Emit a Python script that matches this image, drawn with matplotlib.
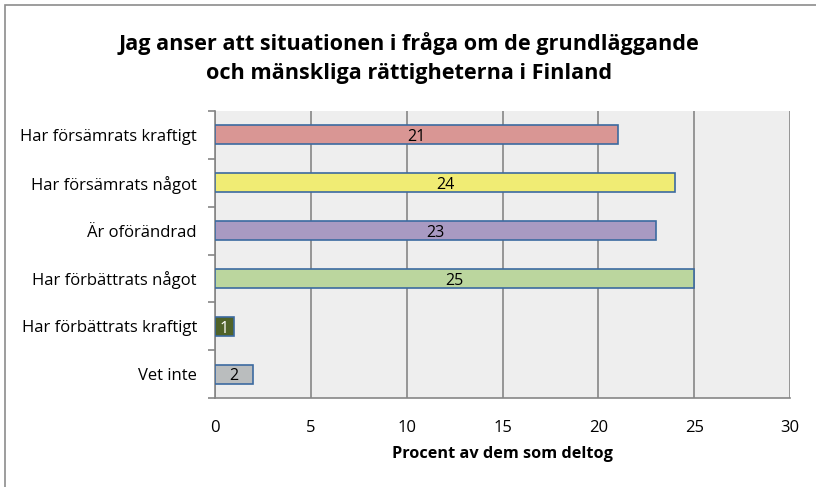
import matplotlib.pyplot as plt
import numpy as np
from matplotlib.patches import Rectangle

categories = ["Har försämrats kraftigt", "Har försämrats något", "Är oförändrad",
              "Har förbättrats något", "Har förbättrats kraftigt", "Vet inte"]
values = [21, 24, 23, 25, 1, 2]
colors = ["#D99694", "#F0EC74", "#A99AC2", "#BBD69E", "#4F6228", "#BABDBE"]
label_colors = ["black", "black", "black", "black", "white", "black"]
xticks = [0, 5, 10, 15, 20, 25, 30]

plt.rcParams["font.family"] = ["Open Sans", "DejaVu Sans"]

fig = plt.figure(figsize=(8.16, 4.87), dpi=100)
fig.patches.append(Rectangle((5 / 816, -0.1), 1.2, 1 - 5 / 487 + 0.1, transform=fig.transFigure,
                             fill=False, edgecolor="#8C8C8C", linewidth=1.2))

ax = fig.add_axes([215 / 816, 1 - 398 / 487, 575 / 816, 287 / 487])
ax.set_facecolor("#EEEEEE")

y = np.arange(len(categories))
ax.barh(y, values, height=0.4, color=colors, edgecolor="#3C6AA0", linewidth=1.2, zorder=3)
for yi, v, c in zip(y, values, label_colors):
    ax.text(v / 2, yi + 0.05, str(v), ha="center", va="center", fontsize=11.5, color=c, zorder=4)

ax.set_xlim(0, 30)
ax.set_ylim(len(categories) - 0.5, -0.5)
ax.set_xticks(xticks)
ax.set_yticks(y)
ax.set_yticklabels(categories, fontsize=12)
ax.set_yticks(np.arange(-0.5, len(categories)), minor=True)
ax.tick_params(axis="y", which="major", length=0, pad=13)
ax.tick_params(axis="y", which="minor", length=5, color="#868686", width=1.2)
ax.tick_params(axis="x", length=0, pad=16, labelsize=12)
ax.grid(axis="x", color="#868686", linewidth=1.2, zorder=1)
for s in ["top", "right"]:
    ax.spines[s].set_visible(False)
for s in ["left", "bottom"]:
    ax.spines[s].set_color("#868686")
    ax.spines[s].set_linewidth(1.2)

ax.set_xlabel("Procent av dem som deltog", fontsize=11.7, fontweight="bold", labelpad=7)
fig.text(409 / 816, 1 - 58 / 487,
         "Jag anser att situationen i fråga om de grundläggande\noch mänskliga rättigheterna i Finland",
         ha="center", va="center", fontsize=15.6, fontweight="bold", linespacing=1.55)

fig.savefig("out.png", dpi=100)
